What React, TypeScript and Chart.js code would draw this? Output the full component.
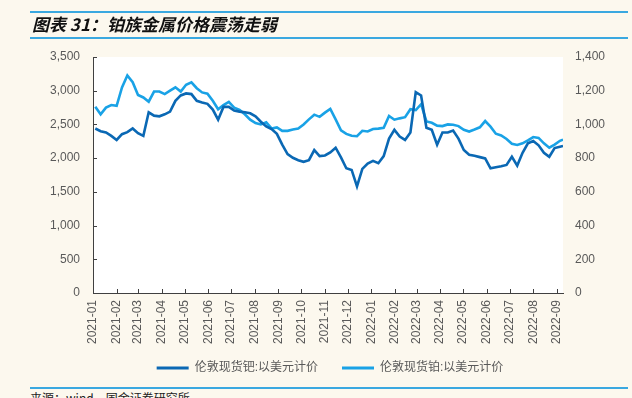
import React, { useEffect, useRef } from "react";
import { Chart, registerables } from "chart.js";
Chart.register(...registerables);

// Weekly observations starting 2021-01-04, last observation 2022-09-09
const START_DATE = "2021-01-04";
const LAST_DATE = "2022-09-09";

const seriesNames = ["伦敦现货钯:以美元计价", "伦敦现货铂:以美元计价"];

const palladium = [
  2440, 2400, 2380, 2330, 2270, 2355, 2385, 2440, 2370, 2330,
  2680, 2630, 2620, 2650, 2690, 2850, 2930, 2960, 2950, 2850,
  2825, 2805, 2720, 2570, 2760, 2760, 2705, 2690, 2680, 2665,
  2620, 2540, 2470, 2430, 2360, 2200, 2060, 2005, 1970, 1945,
  1970, 2120, 2030, 2040, 2085, 2155, 2010, 1850, 1825, 1580,
  1840, 1920, 1960, 1925, 2030, 2290, 2420, 2320, 2270, 2380,
  2980, 2930, 2450, 2420, 2200, 2380, 2380, 2410, 2290, 2120,
  2050, 2035, 2015, 1995, 1850, 1866, 1880, 1900, 2020, 1890,
  2080, 2220, 2255, 2190, 2080, 2020, 2150, 2170, 2180,
];

const platinum = [
  1105, 1060, 1100, 1115, 1110, 1220, 1290, 1250, 1175, 1160,
  1135, 1195, 1195, 1180, 1200, 1220, 1195, 1235, 1250, 1215,
  1190, 1182, 1140, 1090, 1115, 1134, 1100, 1086, 1060, 1028,
  1008, 1000, 1012, 976, 982, 962, 962, 970, 975, 1000,
  1030, 1058, 1045, 1070, 1092, 1030, 965, 944, 933, 930,
  962, 958, 973, 975, 980, 1050, 1028, 1036, 1043, 1090,
  1085, 1120, 1018, 1010, 993, 990, 1000, 998, 990, 968,
  958, 970, 983, 1020, 987, 945, 935, 914, 885, 878,
  888, 905, 925, 920, 888, 862, 880, 903, 910,
];

const monthLabels = [
  "2021-01", "2021-02", "2021-03", "2021-04", "2021-05", "2021-06", "2021-07",
  "2021-08", "2021-09", "2021-10", "2021-11", "2021-12", "2022-01", "2022-02",
  "2022-03", "2022-04", "2022-05", "2022-06", "2022-07", "2022-08", "2022-09",
];

const leftAxis = { min: 0, max: 3500, step: 500 };
const rightAxis = { min: 0, max: 1400, step: 200 };

const COLORS = ["#0a68b4", "#19a2e6"];
const FONT = "'Liberation Sans', 'Noto Sans CJK SC', Arial, sans-serif";

const ORIGIN = Date.UTC(2021, 0, 1);
function dayOf(s: string): number {
  const [y, m, d] = s.split("-").map(Number);
  return Math.round((Date.UTC(y, m - 1, d || 1) - ORIGIN) / 86400000);
}

const dates: number[] = palladium.map((_, i) =>
  i < palladium.length - 1 ? dayOf(START_DATE) + 7 * i : dayOf(LAST_DATE)
);
const monthDays = monthLabels.map((m) => dayOf(m + "-01"));

const plotPlugin = {
  id: "plotDecor",
  afterLayout(chart: any) {
    // let rotated tick labels overflow below the (compact) x-axis box
    const sx = chart.scales.x;
    if (sx) sx.bottom = sx.top + 70;
  },
  beforeDraw(chart: any) {
    const { ctx, chartArea: a } = chart;
    ctx.save();
    ctx.fillStyle = "#ffffff";
    ctx.fillRect(a.left, a.top, a.right - a.left, a.bottom - a.top);
    ctx.restore();
  },
  afterDraw(chart: any) {
    const { ctx, chartArea: a, scales } = chart;
    ctx.save();
    ctx.strokeStyle = "#404040";
    ctx.lineWidth = 1;
    ctx.beginPath();
    scales.x.ticks.forEach((t: any) => {
      const px = Math.round(scales.x.getPixelForValue(t.value)) + 0.5;
      ctx.moveTo(px, a.bottom);
      ctx.lineTo(px, a.bottom - 4);
    });
    scales.yL.ticks.forEach((t: any) => {
      const py = Math.round(scales.yL.getPixelForValue(t.value)) + 0.5;
      ctx.moveTo(a.left, py);
      ctx.lineTo(a.left + 4, py);
    });
    ctx.stroke();
    ctx.restore();
  },
};

export default function App() {
  const ref = useRef<HTMLCanvasElement | null>(null);

  useEffect(() => {
    if (!ref.current) return;
    const chart = new Chart(ref.current, {
      type: "line",
      data: {
        datasets: [
          {
            label: seriesNames[0],
            data: dates.map((d, i) => ({ x: d, y: palladium[i] })),
            borderColor: COLORS[0],
            backgroundColor: COLORS[0],
            borderWidth: 2.6,
            pointRadius: 0,
            tension: 0,
            yAxisID: "yL",
          },
          {
            label: seriesNames[1],
            data: dates.map((d, i) => ({ x: d, y: platinum[i] })),
            borderColor: COLORS[1],
            backgroundColor: COLORS[1],
            borderWidth: 2.6,
            pointRadius: 0,
            tension: 0,
            yAxisID: "yR",
          },
        ],
      },
      options: {
        responsive: false,
        animation: false,
        layout: { padding: { top: 57, left: 28, right: 0, bottom: 0 } },
        plugins: {
          tooltip: { enabled: false },
          legend: {
            position: "bottom",
            labels: {
              boxWidth: 32,
              boxHeight: 3,
              padding: 24,
              color: "#595959",
              font: { family: FONT, size: 12 },
              generateLabels(chart: any) {
                return chart.data.datasets.map((ds: any, i: number) => ({
                  text: ds.label,
                  fillStyle: ds.borderColor,
                  strokeStyle: ds.borderColor,
                  lineWidth: 0,
                  fontColor: "#595959",
                  datasetIndex: i,
                  hidden: false,
                }));
              },
            },
          },
        },
        scales: {
          x: {
            type: "linear",
            min: 0,
            max: dayOf(LAST_DATE),
            afterBuildTicks(scale: any) {
              scale.ticks = monthDays.map((v) => ({ value: v }));
            },
            afterFit(scale: any) {
              scale.height = 45;
            },
            grid: { display: false, drawTicks: false },
            border: { display: true, color: "#404040", width: 1 },
            ticks: {
              autoSkip: false,
              minRotation: 90,
              maxRotation: 90,
              padding: 7,
              color: "#595959",
              font: { family: FONT, size: 12 },
              callback: (_v: any, i: number) => monthLabels[i],
            },
          },
          yL: {
            type: "linear",
            position: "left",
            min: leftAxis.min,
            max: leftAxis.max,
            afterFit(scale: any) {
              scale.width = 65;
            },
            grid: { display: false, drawTicks: false },
            border: { display: true, color: "#404040", width: 1 },
            ticks: {
              stepSize: leftAxis.step,
              padding: 13,
              color: "#595959",
              font: { family: FONT, size: 12 },
              callback: (v: any) => Number(v).toLocaleString("en-US"),
            },
          },
          yR: {
            type: "linear",
            position: "right",
            min: rightAxis.min,
            max: rightAxis.max,
            afterFit(scale: any) {
              scale.width = 69;
            },
            grid: { display: false, drawTicks: false },
            border: { display: false },
            ticks: {
              stepSize: rightAxis.step,
              padding: 12,
              color: "#595959",
              font: { family: FONT, size: 12 },
              callback: (v: any) => Number(v).toLocaleString("en-US"),
            },
          },
        },
      },
      plugins: [plotPlugin],
    } as any);
    return () => chart.destroy();
  }, []);

  const line = (top: number): React.CSSProperties => ({
    position: "absolute",
    left: 30,
    top,
    width: 598,
    height: 2,
    background: "#3aa8e0",
  });

  return (
    <div
      style={{
        position: "fixed",
        left: 0,
        top: 0,
        width: 632,
        height: 398,
        background: "#fcf8ee",
        overflow: "hidden",
      }}
    >
      <canvas
        ref={ref}
        width={632}
        height={384}
        style={{ position: "absolute", left: 0, top: 0, width: 632, height: 384 }}
      />
      <div style={line(11)} />
      <div
        style={{
          position: "absolute",
          left: 32,
          top: 13,
          lineHeight: "22px",
          fontFamily: "'Noto Sans CJK SC', sans-serif",
          fontWeight: 700,
          fontStyle: "italic",
          fontSize: 17,
          color: "#111",
          whiteSpace: "nowrap",
        }}
      >
        图表 31：铂族金属价格震荡走弱
      </div>
      <div style={line(37)} />
      <div style={line(387)} />
      <div
        style={{
          position: "absolute",
          left: 30,
          top: 390,
          fontFamily: "'Noto Sans CJK SC', sans-serif",
          fontSize: 12,
          lineHeight: "16px",
          color: "#222",
          whiteSpace: "nowrap",
        }}
      >
        来源：wind，国金证券研究所
      </div>
    </div>
  );
}
